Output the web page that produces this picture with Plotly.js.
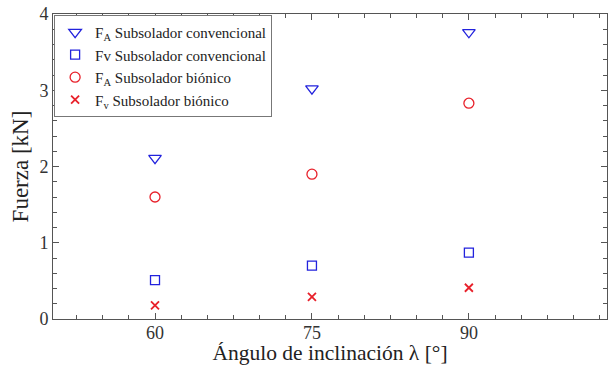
<!DOCTYPE html>
<html>
<head>
<meta charset="utf-8">
<script src="https://cdn.plot.ly/plotly-3.0.1.min.js"></script>
<style>html,body{margin:0;padding:0;background:#fff;}#chart{width:608px;height:365px;}</style>
</head>
<body>
<div id="chart"></div>
<script>
const angles = [60, 75, 90];
const faConvencional = [2.11, 3.02, 3.76];
const fvConvencional = [0.51, 0.70, 0.87];
const faBionico = [1.60, 1.90, 2.83];
const fvBionico = [0.18, 0.29, 0.41];
const xTickVals = [60, 75, 90];
const xTickText = ['60', '75', '90'];
const yTickVals = [0, 1, 2, 3, 4];

const serif = '"Liberation Serif", "Times New Roman", serif';
const traces = [
  {x: angles, y: faConvencional, name: 'F<sub>A</sub> Subsolador convencional', mode: 'markers', type: 'scatter',
   marker: {symbol: 'triangle-down-open', size: 11, color: '#2222dd', line: {width: 1.3}}},
  {x: angles, y: fvConvencional, name: 'Fv Subsolador convencional', mode: 'markers', type: 'scatter',
   marker: {symbol: 'square-open', size: 9, color: '#2222dd', line: {width: 1.3}}},
  {x: angles, y: faBionico, name: 'F<sub>A</sub> Subsolador biónico', mode: 'markers', type: 'scatter',
   marker: {symbol: 'circle-open', size: 10, color: '#e8202a', line: {width: 1.3}}},
  {x: angles, y: fvBionico, name: 'F<sub>v</sub> Subsolador biónico', mode: 'markers', type: 'scatter',
   marker: {symbol: 'x-thin-open', size: 8, color: '#e8202a', line: {width: 1.8}}}
];

const layout = {
  width: 608, height: 365,
  margin: {l: 53, r: 1, t: 14, b: 46},
  paper_bgcolor: '#fff', plot_bgcolor: '#fff',
  font: {family: serif, color: '#333', size: 18},
  showlegend: true,
  legend: {x: 0.002, y: 0.997, xanchor: 'left', yanchor: 'top', bgcolor: '#fff',
    bordercolor: '#777', borderwidth: 1, font: {family: serif, size: 15, color: '#222'},
    tracegroupgap: 0, itemwidth: 30},
  xaxis: {range: [50.25, 103.2], tickmode: 'array', tickvals: xTickVals, ticktext: xTickText,
    ticks: 'inside', ticklen: 6, tickcolor: '#555', showline: true, linecolor: '#555', linewidth: 1,
    mirror: 'ticks', showgrid: false, zeroline: false, ticklabelstandoff: -3,
    minor: {dtick: 2.5, tick0: 50, ticks: 'inside', ticklen: 4, tickcolor: '#555'},
    tickfont: {size: 18, family: serif, color: '#333'},
    title: {text: 'Ángulo de inclinación λ [°]', font: {size: 21.5, family: serif, color: '#222'}, standoff: 1}},
  yaxis: {range: [0, 4], tickmode: 'array', tickvals: yTickVals,
    ticks: 'inside', ticklen: 6, tickcolor: '#555', showline: true, linecolor: '#555', linewidth: 1,
    mirror: 'ticks', showgrid: false, zeroline: false,
    minor: {dtick: 0.2, ticks: 'inside', ticklen: 4, tickcolor: '#555'},
    tickfont: {size: 18, family: serif, color: '#333'},
    title: {text: 'Fuerza [kN]', font: {size: 23, family: serif, color: '#222'}, standoff: 4}}
};

Plotly.newPlot('chart', traces, layout, {displayModeBar: false, staticPlot: true});
</script>
</body>
</html>
